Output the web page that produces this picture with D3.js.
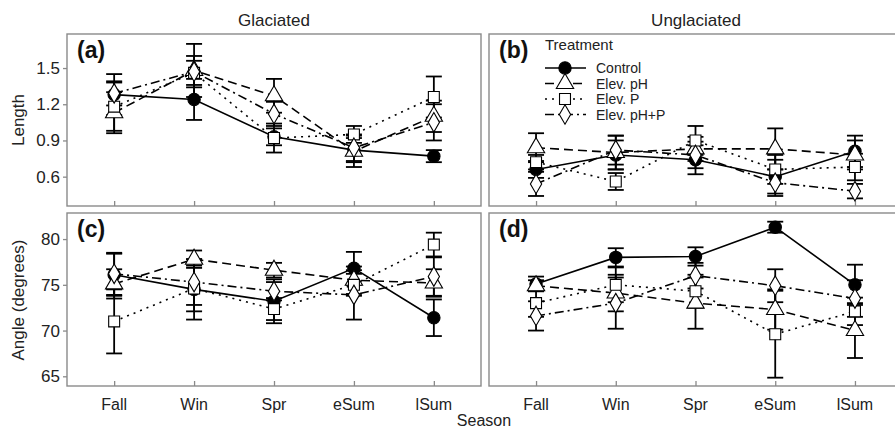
<!DOCTYPE html>
<html><head><meta charset="utf-8">
<script src="https://cdn.jsdelivr.net/npm/d3@7"></script>
<style>body{margin:0;background:#fff}svg{display:block;font-family:"Liberation Sans",Arial,sans-serif}</style>
</head><body><svg id="c" width="895" height="429"></svg>
<script>
const seasons = ["Fall","Win","Spr","eSum","lSum"];
const treatments = ["Control","Elev. pH","Elev. P","Elev. pH+P"];
const lengthTicks = [0.6,0.9,1.2,1.5];
const angleTicks = [65,70,75,80];
// Length, Glaciated (a): mean, se per treatment
const aMean = {"Control":[1.28,1.24,0.93,0.82,0.77],"Elev. pH":[1.13,1.48,1.27,0.81,1.10],"Elev. P":[1.18,1.46,0.92,0.95,1.26],"Elev. pH+P":[1.29,1.47,1.12,0.84,1.05]};
const aSe   = {"Control":[0.17,0.17,0.07,0.10,0.05],"Elev. pH":[0.17,0.22,0.14,0.13,0.13],"Elev. P":[0.20,0.10,0.12,0.07,0.17],"Elev. pH+P":[0.10,0.13,0.10,0.11,0.15]};
// Length, Unglaciated (b)
const bMean = {"Control":[0.66,0.78,0.74,0.60,0.81],"Elev. pH":[0.84,0.80,0.83,0.83,0.78],"Elev. P":[0.72,0.56,0.90,0.66,0.68],"Elev. pH+P":[0.54,0.82,0.78,0.55,0.48]};
const bSe   = {"Control":[0.07,0.12,0.12,0.14,0.13],"Elev. pH":[0.12,0.14,0.10,0.17,0.12],"Elev. P":[0.06,0.07,0.12,0.12,0.11],"Elev. pH+P":[0.10,0.12,0.11,0.11,0.06]};
// Angle, Glaciated (c)
const cMean = {"Control":[76.1,74.5,73.2,76.8,71.4],"Elev. pH":[75.1,77.8,76.6,75.5,75.2],"Elev. P":[71.0,74.6,72.35,75.0,79.4],"Elev. pH+P":[76.2,75.3,74.3,73.9,75.9]};
const cSe   = {"Control":[2.3,3.3,2.4,1.8,2.0],"Elev. pH":[1.6,0.95,0.8,1.5,1.5],"Elev. P":[3.5,2.5,1.2,1.2,1.3],"Elev. pH+P":[2.3,2.5,1.0,2.7,2.1]};
// Angle, Unglaciated (d)
const dMean = {"Control":[75.1,78.0,78.1,81.3,75.0],"Elev. pH":[74.9,74.1,73.0,72.3,70.0],"Elev. P":[73.0,75.0,74.3,69.6,72.1],"Elev. pH+P":[71.6,73.0,76.0,74.9,73.5]};
const dSe   = {"Control":[0.8,1.0,1.0,0.6,2.2],"Elev. pH":[0.6,2.0,2.8,2.2,3.0],"Elev. P":[1.5,1.9,1.8,4.75,1.5],"Elev. pH+P":[1.6,2.8,1.4,1.8,2.0]};

const svg = d3.select("#c");
const dash = {"Control":null,"Elev. pH":"9,5","Elev. P":"2,5","Elev. pH+P":"9,4,2,4"};
const sym = {"Control":d3.symbolCircle,"Elev. pH":d3.symbolTriangle,"Elev. P":d3.symbolSquare,"Elev. pH+P":d3.symbolDiamond};
const symSize = {"Control":120,"Elev. pH":130,"Elev. P":120,"Elev. pH+P":110};
const fill = {"Control":"#000","Elev. pH":"#fff","Elev. P":"#fff","Elev. pH+P":"#fff"};
const frame = "#8a8a8a";

const panels = [
 {lab:"(a)", y0:34, y1:206, dom:[0.357,1.782], ticks:lengthTicks, fmt:d3.format(".1f"), mean:aMean, se:aSe, left:true, bottom:false, xr:[67,481]},
 {lab:"(b)", y0:34, y1:206, dom:[0.357,1.782], ticks:lengthTicks, fmt:d3.format(".1f"), mean:bMean, se:bSe, left:false, bottom:false, xr:[489,902]},
 {lab:"(c)", y0:213, y1:386, dom:[63.94,82.85], ticks:angleTicks, fmt:d3.format("d"), mean:cMean, se:cSe, left:true, bottom:true, xr:[67,481]},
 {lab:"(d)", y0:213, y1:386, dom:[63.94,82.85], ticks:angleTicks, fmt:d3.format("d"), mean:dMean, se:dSe, left:false, bottom:true, xr:[489,902]}
];

panels.forEach(p=>{
  const x = d3.scalePoint().domain(seasons).range(p.xr).padding(0.59);
  const y = d3.scaleLinear().domain(p.dom).range([p.y1,p.y0]);
  const g = svg.append("g");
  g.append("rect").attr("x",p.xr[0]).attr("y",p.y0).attr("width",p.xr[1]-p.xr[0]).attr("height",p.y1-p.y0)
    .attr("fill","#fff").attr("stroke",frame).attr("stroke-width",1.4);
  if(p.left){
    const ax = g.append("g").attr("transform",`translate(${p.xr[0]},0)`)
      .call(d3.axisLeft(y).tickValues(p.ticks).tickFormat(p.fmt).tickSize(4).tickPadding(3));
    ax.select(".domain").remove();
    ax.selectAll("line").attr("stroke",frame).attr("stroke-width",1.3);
    ax.selectAll("text").attr("font-size",17).attr("fill","#222").attr("font-family","Liberation Sans, Arial, sans-serif");
  }
  const xa = g.append("g").attr("transform",`translate(0,${p.y1})`)
    .call(d3.axisTop(x).tickSize(5).tickFormat(""));
  xa.select(".domain").remove();
  xa.selectAll("line").attr("stroke",frame).attr("stroke-width",1.3);
  if(p.bottom){
    seasons.forEach(s=>{
      g.append("text").attr("x",x(s)).attr("y",p.y1+24).attr("text-anchor","middle")
        .attr("font-size",16).attr("fill","#222").text(s);
    });
  }
  const cl = "clip"+p.lab.replace(/\W/g,"");
  svg.append("clipPath").attr("id",cl).append("rect").attr("x",p.xr[0]).attr("y",p.y0).attr("width",p.xr[1]-p.xr[0]).attr("height",p.y1-p.y0);
  const gg = g.append("g").attr("clip-path",`url(#${cl})`);
  treatments.forEach(t=>{
    seasons.forEach((s,i)=>{
      const m=p.mean[t][i], e=p.se[t][i], cx=x(s);
      gg.append("line").attr("x1",cx).attr("x2",cx).attr("y1",y(m-e)).attr("y2",y(m+e)).attr("stroke","#000").attr("stroke-width",1.8);
      [m-e,m+e].forEach(v=>gg.append("line").attr("x1",cx-8).attr("x2",cx+8).attr("y1",y(v)).attr("y2",y(v)).attr("stroke","#000").attr("stroke-width",1.8));
    });
  });
  const line = d3.line().x((d,i)=>x(seasons[i])).y(d=>y(d));
  treatments.forEach(t=>{
    gg.append("path").attr("d",line(p.mean[t])).attr("fill","none").attr("stroke","#000")
      .attr("stroke-width",1.6).attr("stroke-dasharray",dash[t]);
  });
  treatments.forEach(t=>{
    seasons.forEach((s,i)=>{
      gg.append("path").attr("d",d3.symbol().type(sym[t]).size(symSize[t])())
        .attr("transform",`translate(${x(s)},${y(p.mean[t][i])})`)
        .attr("fill",fill[t]).attr("stroke","#000").attr("stroke-width",1.1);
    });
  });
  g.append("text").attr("x",p.xr[0]+10).attr("y",p.y0+24).attr("font-size",23).attr("font-weight","bold").attr("fill","#111").text(p.lab);
});

svg.append("text").attr("x",274).attr("y",26).attr("text-anchor","middle").attr("font-size",17).attr("fill","#222").text("Glaciated");
svg.append("text").attr("x",696).attr("y",26).attr("text-anchor","middle").attr("font-size",17).attr("fill","#222").text("Unglaciated");
svg.append("text").attr("transform","translate(24,120) rotate(-90)").attr("text-anchor","middle").attr("font-size",17).attr("fill","#222").text("Length");
svg.append("text").attr("transform","translate(24,300) rotate(-90)").attr("text-anchor","middle").attr("font-size",17).attr("fill","#222").text("Angle (degrees)");
svg.append("text").attr("x",484).attr("y",426).attr("text-anchor","middle").attr("font-size",16).attr("fill","#222").text("Season");

const lg = svg.append("g");
lg.append("text").attr("x",545).attr("y",50).attr("font-size",15).attr("fill","#222").text("Treatment");
treatments.forEach((t,i)=>{
  const yy = 68 + i*15.5;
  lg.append("line").attr("x1",545).attr("x2",586).attr("y1",yy).attr("y2",yy).attr("stroke","#000").attr("stroke-width",1.6).attr("stroke-dasharray",dash[t]);
  lg.append("path").attr("d",d3.symbol().type(sym[t]).size(symSize[t])()).attr("transform",`translate(565,${yy})`)
    .attr("fill",fill[t]).attr("stroke","#000").attr("stroke-width",1.1);
  lg.append("text").attr("x",596).attr("y",yy+5).attr("font-size",14).attr("fill","#222").text(t);
});
</script></body></html>
